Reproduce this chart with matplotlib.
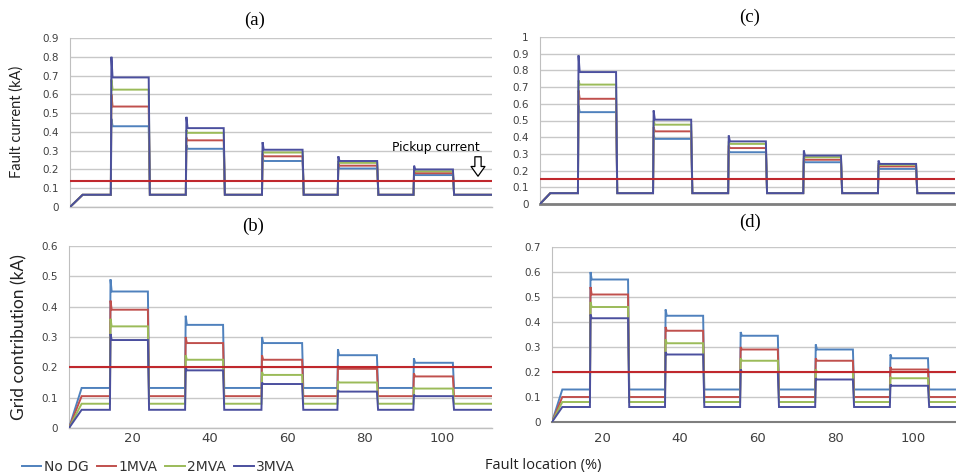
import matplotlib
matplotlib.use("Agg")
import matplotlib.pyplot as plt
from matplotlib.lines import Line2D
from matplotlib.ticker import FuncFormatter

W, H = 956, 474
SERIES = ["No DG", "1MVA", "2MVA", "3MVA"]
COLORS = ["#4F81BD", "#C0504D", "#9BBB59", "#4B4F9E"]
X_TICKS = [20, 40, 60, 80, 100]

# pulse edges, fault location units (left / right column)
RISE_L = [14.3, 33.7, 53.4, 73.0, 92.6]
FALL_L = [24.1, 43.5, 63.9, 83.2, 102.8]
RISE_R = [16.9, 36.2, 55.5, 74.8, 94.0]
FALL_R = [26.7, 46.0, 65.2, 84.5, 103.8]

# (a) fault current
A_BASE = [0.065, 0.065, 0.065, 0.065]
A_LEVEL = [[0.43, 0.31, 0.245, 0.205, 0.17],
           [0.535, 0.355, 0.27, 0.22, 0.18],
           [0.625, 0.395, 0.29, 0.235, 0.19],
           [0.69, 0.42, 0.305, 0.245, 0.20]]
A_PEAK = [[0.47, 0.33, 0.26, 0.215, 0.18],
          [0.60, 0.37, 0.285, 0.23, 0.19],
          [0.68, 0.41, 0.30, 0.245, 0.20],
          [0.80, 0.48, 0.345, 0.27, 0.22]]
A_PICKUP = 0.14

# (c) fault current
C_BASE = [0.065, 0.065, 0.065, 0.065]
C_LEVEL = [[0.55, 0.39, 0.31, 0.25, 0.21],
           [0.63, 0.435, 0.335, 0.265, 0.225],
           [0.715, 0.475, 0.36, 0.28, 0.235],
           [0.79, 0.505, 0.375, 0.29, 0.24]]
C_PEAK = [[0.59, 0.41, 0.32, 0.26, 0.22],
          [0.68, 0.46, 0.35, 0.275, 0.235],
          [0.74, 0.50, 0.375, 0.29, 0.245],
          [0.89, 0.56, 0.41, 0.32, 0.26]]
C_PICKUP = 0.15

# (b) grid contribution
B_BASE = [0.132, 0.105, 0.08, 0.06]
B_LEVEL = [[0.45, 0.34, 0.28, 0.24, 0.215],
           [0.39, 0.28, 0.225, 0.195, 0.17],
           [0.335, 0.225, 0.175, 0.15, 0.13],
           [0.29, 0.19, 0.145, 0.12, 0.105]]
B_PEAK = [[0.49, 0.37, 0.30, 0.26, 0.23],
          [0.42, 0.30, 0.24, 0.205, 0.18],
          [0.36, 0.24, 0.185, 0.155, 0.135],
          [0.31, 0.20, 0.15, 0.125, 0.11]]
B_PICKUP = 0.2

# (d) grid contribution
D_BASE = [0.13, 0.10, 0.08, 0.06]
D_LEVEL = [[0.57, 0.425, 0.345, 0.29, 0.255],
           [0.51, 0.365, 0.29, 0.245, 0.21],
           [0.46, 0.315, 0.245, 0.20, 0.175],
           [0.415, 0.27, 0.20, 0.17, 0.145]]
D_PEAK = [[0.60, 0.45, 0.36, 0.31, 0.27],
          [0.54, 0.38, 0.30, 0.255, 0.22],
          [0.48, 0.33, 0.255, 0.21, 0.18],
          [0.43, 0.28, 0.21, 0.175, 0.15]]
D_PICKUP = 0.2


def wave(base, lev, pk, rises, falls, x0, x1, xe):
    xs, ys = [x0, x1], [0, base]
    for r, f, l, p in zip(rises, falls, lev, pk):
        xs += [r, r + 0.15, r + 0.45, f, f + 0.3]
        ys += [base, p, l, l, base]
    xs.append(xe); ys.append(base)
    return xs, ys


def px_axes(l, t, r, b):
    return fig.add_axes([l / W, 1 - b / H, (r - l) / W, (b - t) / H])


fig = plt.figure(figsize=(W / 100, H / 100), dpi=100)

panels = [
    ("a", (70, 38, 492, 207), (3.74, 112.9), 0.9, A_BASE, A_LEVEL, A_PEAK, A_PICKUP, "L", "#BFBFBF", 1.0),
    ("c", (540, 37, 955, 204), (7.15, 113.8), 1.0, C_BASE, C_LEVEL, C_PEAK, C_PICKUP, "R", "#7F7F7F", 2.0),
    ("b", (69, 246, 492, 428), (3.74, 112.9), 0.6, B_BASE, B_LEVEL, B_PEAK, B_PICKUP, "L", "#BFBFBF", 1.0),
    ("d", (552, 247, 956, 422), (7.15, 111.0), 0.7, D_BASE, D_LEVEL, D_PEAK, D_PICKUP, "R", "#7F7F7F", 1.5),
]

axes = {}
for name, box, xl, ytop, base, lev, pk, pick, col, bcol, blw in panels:
    ax = px_axes(*box)
    axes[name] = ax
    rises, falls = (RISE_L, FALL_L) if col == "L" else (RISE_R, FALL_R)
    x1 = 7.0 if col == "L" else 9.8
    for i in range(4):
        xs, ys = wave(base[i], lev[i], pk[i], rises, falls, xl[0], x1, xl[1])
        ax.plot(xs, ys, color=COLORS[i], lw=1.4, solid_joinstyle="miter", zorder=3 + i)
    ax.axhline(pick, color="#C0282D", lw=1.5, zorder=8)
    ax.set_xlim(*xl)
    ax.set_ylim(0, ytop)
    yt = [k / 10 for k in range(int(round(ytop * 10)) + 1)]
    ax.set_yticks(yt)
    ax.yaxis.set_major_formatter(FuncFormatter(lambda v, p: f"{v:g}"))
    ax.grid(axis="y", color="#C8C8C8", lw=1.0)
    ax.set_axisbelow(True)
    for s in ("top", "right"):
        ax.spines[s].set_visible(False)
    ax.spines["left"].set_color("#BFBFBF")
    ax.spines["bottom"].set_color(bcol)
    ax.spines["bottom"].set_linewidth(blw)
    ax.tick_params(axis="y", length=0, pad=8, labelsize=7.5, labelcolor="#404040")
    if name in ("b", "d"):
        ax.set_xticks(X_TICKS)
        ax.tick_params(axis="x", length=0, pad=3 if col == "L" else 7, labelsize=9.5, labelcolor="#404040")
    else:
        ax.set_xticks([])

# panel titles
for lab, x, y in [("(a)", 255, 20), ("(c)", 750, 17), ("(b)", 253, 226), ("(d)", 750, 222)]:
    fig.text(x / W, 1 - y / H, lab, ha="center", va="center", family="Liberation Serif", fontsize=13.5)

fig.text(17 / W, 1 - 122 / H, "Fault current (kA)", rotation=90, ha="center", va="center",
         family="Lato", fontsize=10.5, color="#222222")
fig.text(19 / W, 1 - 337 / H, "Grid contribution (kA)", rotation=90, ha="center", va="center",
         family="Lato", fontsize=12.5, color="#222222")
fig.text(543 / W, 1 - 465 / H, "Fault location (%)", ha="center", va="center",
         family="Open Sans", fontsize=10.5, color="#222222")

# pickup current annotation
axa = axes["a"]
fig.text(436 / W, 1 - 147 / H, "Pickup current", ha="center", va="center", fontsize=8.8)
axa.annotate("", xy=(478, H - 179), xycoords="figure pixels",
             xytext=(478, H - 154), textcoords="figure pixels",
             arrowprops=dict(arrowstyle="simple,head_length=0.7,head_width=1.0,tail_width=0.45",
                             fc="white", ec="black", lw=0.9), zorder=10)

handles = [Line2D([], [], color=c, lw=1.4) for c in COLORS]
leg = fig.legend(handles, SERIES, loc="center left", bbox_to_anchor=(22 / W, 7 / H), ncol=4,
                 frameon=False, handlelength=1.4, handletextpad=0.15, columnspacing=0.6,
                 fontsize=10, borderpad=0, borderaxespad=0)
for t in leg.get_texts():
    t.set_color("#333333")

fig.savefig("out.png", dpi=100)
